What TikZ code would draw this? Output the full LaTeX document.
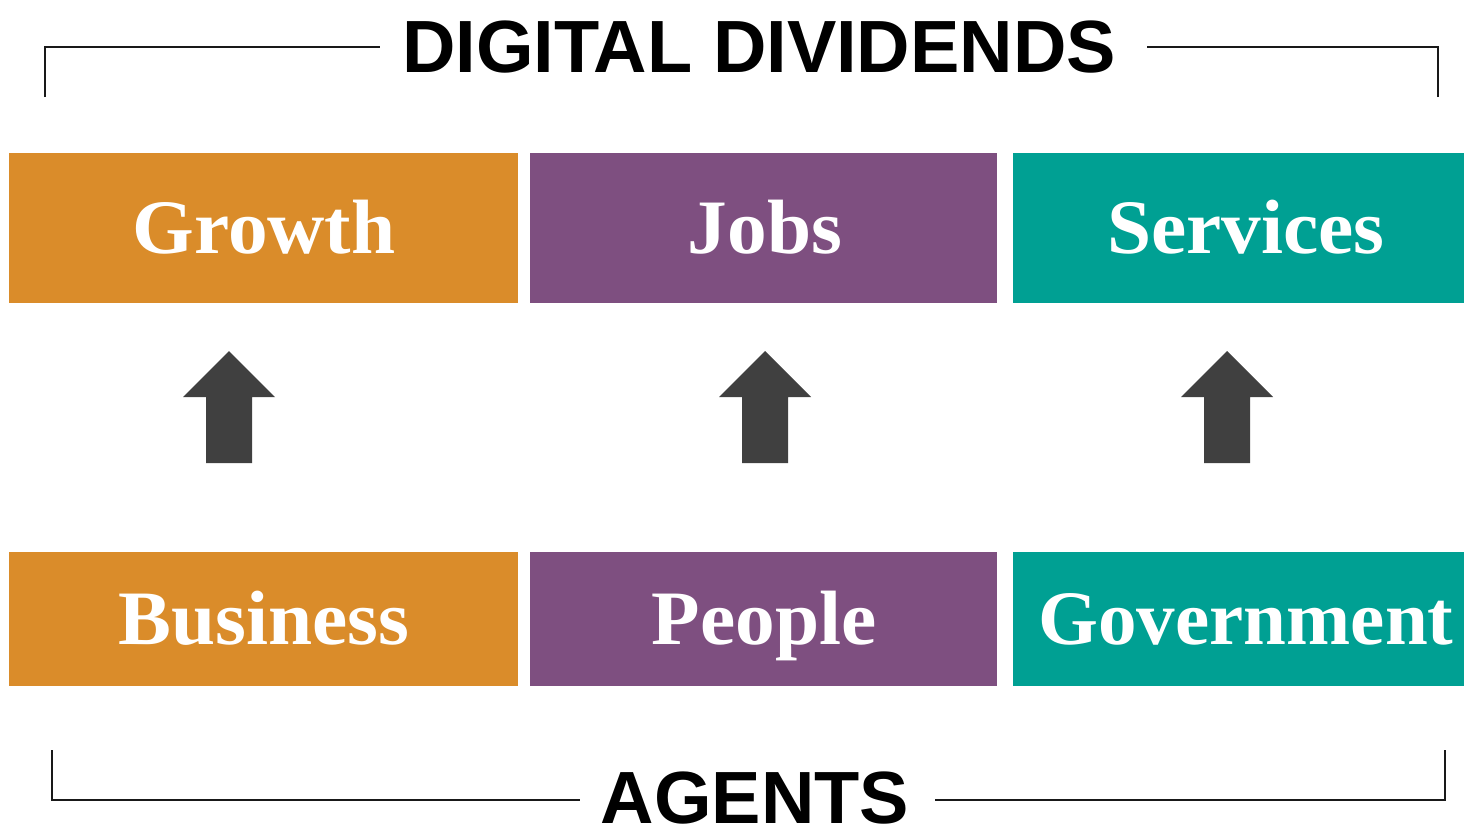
\documentclass[tikz,border=0pt]{standalone}
\usepackage{fontspec}
\setmainfont{Liberation Serif}
\newfontfamily\headfont{Liberation Sans}
\definecolor{orangeC}{HTML}{DA8C2A}
\definecolor{purpleC}{HTML}{7E4F80}
\definecolor{tealC}{HTML}{00A093}
\definecolor{arrowC}{HTML}{404040}
\begin{document}
\begin{tikzpicture}[x=1pt,y=-1pt,
  box/.style={rectangle, inner sep=0pt, draw=none},
  boxtext/.style={anchor=base, text=white, inner sep=0pt, font=\addfontfeature{FakeStretch=1.03}\fontsize{77}{80}\selectfont\bfseries},
  headtext/.style={anchor=base, inner sep=0pt, text depth=0pt, font=\headfont\fontsize{74}{77}\selectfont\bfseries},
  bracket/.style={line width=2pt, black!90},
  uparrow/.style={fill=arrowC}]
\useasboundingbox (0,0) rectangle (1464,828);
% top row
\node[box, fill=orangeC, minimum width=509pt, minimum height=150pt] (growth) at (263.5,228) {};
\node[box, fill=purpleC, minimum width=467pt, minimum height=150pt] (jobs) at (763.5,228) {};
\node[box, fill=tealC, minimum width=451pt, minimum height=150pt] (services) at (1238.5,228) {};
\node[boxtext] (growthT) at (264,253) {Growth};
\node[boxtext] (jobsT) at (765,253) {Jobs};
\node[boxtext] (servicesT) at (1246,253) {Services};
% bottom row
\node[box, fill=orangeC, minimum width=509pt, minimum height=134pt] (business) at (263.5,619) {};
\node[box, fill=purpleC, minimum width=467pt, minimum height=134pt] (people) at (763.5,619) {};
\node[box, fill=tealC, minimum width=451pt, minimum height=134pt] (government) at (1238.5,619) {};
\node[boxtext] (businessT) at (264,644) {Business};
\node[boxtext] (peopleT) at (764,644) {People};
\node[boxtext, font=\fontsize{77}{80}\selectfont\bfseries] (governmentT) at (1246,644) {Government};
% arrows
\foreach \n/\x in {a1/229,a2/765,a3/1227}{
  \coordinate (\n) at (\x,351);
  \fill[uparrow] (\n) -- ++(46,46) -- ++(-23,0) -- ++(0,66) -- ++(-46,0) -- ++(0,-66) -- ++(-23,0) -- cycle;
}
% titles
\node[headtext] (title) at (759,72) {DIGITAL DIVIDENDS};
\node[headtext] (agents) at (755,823) {AGENTS};
% brackets
\coordinate (tl) at (45,97);
\coordinate (tr) at (1438,97);
\draw[bracket] (tl) |- (380,47);
\draw[bracket] (tr) |- (1147,47);
\coordinate (bl) at (52,750);
\coordinate (br) at (1445,750);
\draw[bracket] (bl) |- (580,800);
\draw[bracket] (br) |- (935,800);
\end{tikzpicture}
\end{document}
